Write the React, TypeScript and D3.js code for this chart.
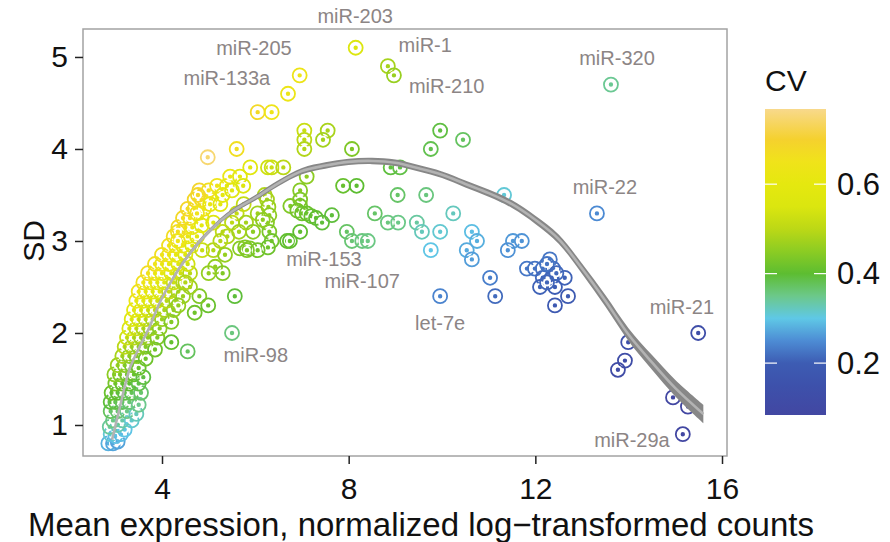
import React, { useEffect, useRef } from "react";
import * as d3 from "d3";

// mean expression / SD pairs
const lowCluster: [number, number][] = [
  [2.85, 0.8], [2.95, 0.8], [3.05, 0.82], [2.9, 0.9], [3.0, 0.88], [3.12, 0.9], [2.88, 0.98], [3.2, 0.95], [3.05, 1.0],
  [2.95, 1.05], [3.15, 1.05], [3.35, 1.05],
  [2.9, 1.15], [3.05, 1.15], [3.25, 1.15], [3.45, 1.12],
  [2.9, 1.25], [3.0, 1.25], [3.15, 1.25], [3.3, 1.25], [3.5, 1.22],
  [2.92, 1.35], [3.05, 1.35], [3.2, 1.35], [3.35, 1.35], [3.55, 1.35],
  [3.0, 1.45], [3.15, 1.45], [3.3, 1.45], [3.5, 1.45],
  [2.98, 1.55], [3.1, 1.55], [3.25, 1.55], [3.4, 1.55], [3.6, 1.52],
  [3.05, 1.65], [3.2, 1.65], [3.35, 1.65], [3.5, 1.62],
  [3.15, 1.75], [3.3, 1.75], [3.45, 1.75], [3.65, 1.72],
];

const midCluster: [number, number][] = [
  [3.2, 1.85], [3.35, 1.85], [3.5, 1.85], [3.65, 1.85], [3.85, 1.82],
  [3.25, 1.95], [3.4, 1.95], [3.55, 1.95], [3.7, 1.95], [3.9, 1.95],
  [3.3, 2.05], [3.45, 2.05], [3.6, 2.05], [3.75, 2.05], [3.95, 2.05],
  [3.35, 2.15], [3.5, 2.15], [3.65, 2.15], [3.8, 2.15], [4.0, 2.15], [4.2, 2.12],
  [3.4, 2.25], [3.55, 2.25], [3.7, 2.25], [3.85, 2.25], [4.05, 2.25], [4.25, 2.25],
  [3.45, 2.35], [3.6, 2.35], [3.75, 2.35], [3.9, 2.35], [4.1, 2.35], [4.3, 2.35],
  [3.5, 2.45], [3.65, 2.45], [3.8, 2.45], [3.95, 2.45], [4.15, 2.45], [4.35, 2.45],
  [3.6, 2.55], [3.75, 2.55], [3.9, 2.55], [4.05, 2.55], [4.25, 2.55], [4.45, 2.55],
  [3.7, 2.65], [3.85, 2.65], [4.0, 2.65], [4.2, 2.65], [4.4, 2.65], [4.6, 2.65],
  [3.85, 2.75], [4.0, 2.75], [4.15, 2.75], [4.35, 2.75], [4.55, 2.75],
  [4.2, 1.9], [4.55, 1.8], [4.7, 2.22], [4.99, 2.3], [4.8, 2.4], [4.6, 2.5], [5.56, 2.4], [5.5, 2.0],
  [4.45, 2.4], [4.35, 2.3], [4.5, 2.55],
];

const upperArm: [number, number][] = [
  [4.0, 2.85], [4.15, 2.85], [4.3, 2.85], [4.5, 2.85],
  [4.15, 2.95], [4.3, 2.95], [4.45, 2.95], [4.65, 2.95],
  [4.25, 3.05], [4.4, 3.05], [4.55, 3.05], [4.75, 3.05],
  [4.35, 3.15], [4.5, 3.15], [4.65, 3.15],
  [4.45, 3.25], [4.6, 3.25], [4.85, 3.25],
  [4.55, 3.35], [4.7, 3.35], [4.9, 3.35],
  [4.7, 3.45], [4.85, 3.45], [5.05, 3.45],
  [4.8, 3.55], [5.0, 3.55],
  [4.34, 3.1], [4.34, 3.0], [4.77, 3.5], [4.75, 3.3], [4.98, 3.91], [5.6, 4.0],
  [5.03, 3.4], [5.25, 3.4], [5.18, 3.6], [5.39, 3.6], [5.46, 3.7], [5.67, 3.7], [5.3, 3.5], [5.1, 3.2],
  [4.85, 3.17], [5.3, 3.1], [5.4, 3.05], [5.1, 2.9], [4.86, 2.9], [5.67, 2.92], [5.78, 2.93], [5.88, 2.92],
  [5.25, 3.0], [5.35, 2.85], [5.14, 2.72], [5.3, 2.65], [5.0, 2.65],
  [5.89, 3.8], [5.74, 3.6], [5.5, 3.55], [5.6, 3.3], [5.75, 3.4], [5.5, 3.2],
  [5.8, 3.2], [5.95, 3.1], [6.05, 3.3], [5.65, 3.1],
];

const middle: [number, number][] = [
  [6.05, 4.4], [6.35, 4.4], [6.7, 4.6], [6.95, 4.8],
  [7.05, 4.2], [7.05, 4.1], [7.05, 4.0], [7.55, 4.2], [7.45, 4.1],
  [6.27, 3.8], [6.35, 3.8], [6.6, 3.8], [7.1, 3.7],
  [6.2, 3.5], [6.25, 3.45], [6.28, 3.37], [6.3, 3.28],
  [6.96, 3.55], [6.96, 3.45], [6.96, 3.38],
  [6.75, 3.38], [6.9, 3.33], [7.0, 3.3], [7.1, 3.3], [7.2, 3.27], [7.3, 3.25],
  [7.43, 3.2], [7.64, 3.28],
  [6.68, 3.0], [6.96, 3.1], [6.25, 3.2], [6.3, 3.1], [6.35, 3.0], [6.27, 2.93], [6.05, 2.9], [5.82, 2.9], [6.74, 3.0], [6.16, 3.23],
  [7.96, 3.1], [8.07, 3.0], [8.29, 3.0], [8.41, 3.0],
  [8.56, 3.3], [8.84, 3.2], [9.06, 3.2], [9.46, 3.2], [9.57, 3.1], [9.96, 3.1], [9.76, 2.9],
  [7.88, 3.6], [8.17, 3.6], [8.9, 3.8], [9.1, 3.8], [9.05, 3.5], [9.66, 3.5],
  [10.24, 3.3], [8.07, 4.0], [9.76, 4.0], [9.96, 4.2], [10.45, 4.1],
  [8.15, 5.1], [8.84, 4.9], [8.97, 4.8],
];

const rightTail: [number, number][] = [
  [13.62, 4.7], [13.32, 3.3], [11.33, 3.5],
  [10.64, 3.1], [10.75, 3.0], [10.53, 2.9], [10.64, 2.8],
  [11.52, 3.0], [11.71, 3.0], [11.41, 2.9],
  [11.03, 2.6], [11.14, 2.4], [9.96, 2.4],
  [11.82, 2.7], [11.99, 2.7], [12.16, 2.7], [12.31, 2.8], [12.38, 2.7], [12.16, 2.6], [12.35, 2.6], [12.63, 2.6],
  [12.1, 2.5], [12.42, 2.5], [12.7, 2.4], [12.42, 2.3], [12.25, 2.75], [12.45, 2.65], [12.25, 2.55],
  [13.99, 1.9], [13.92, 1.7], [13.77, 1.6],
  [15.49, 2.0], [14.95, 1.3], [15.27, 1.2], [15.16, 0.9],
];

// smooth fit through the cloud
const fitMean = [2.93, 3.1, 3.3, 3.5, 3.7, 4.0, 4.5, 5.0, 5.5, 6.0, 6.5, 7.0, 7.5, 8.0, 8.5, 9.0, 9.5, 10.0, 10.5, 11.0, 11.5, 12.0, 12.5, 13.0, 13.5, 14.0, 14.5, 15.0, 15.6];
const fitSD = [0.84, 1.2, 1.6, 1.83, 2.03, 2.38, 2.8, 3.1, 3.32, 3.47, 3.63, 3.76, 3.82, 3.86, 3.87, 3.85, 3.79, 3.72, 3.62, 3.52, 3.4, 3.23, 3.02, 2.7, 2.35, 1.98, 1.68, 1.4, 1.12];
const fitSE = [0.005, 0.008, 0.01, 0.012, 0.014, 0.018, 0.022, 0.025, 0.028, 0.03, 0.032, 0.034, 0.035, 0.035, 0.035, 0.035, 0.035, 0.036, 0.038, 0.04, 0.042, 0.045, 0.05, 0.055, 0.062, 0.07, 0.08, 0.09, 0.1];

// annotated miRNAs (label centre in data units)
const mirNames = ["miR-203", "miR-205", "miR-1", "miR-133a", "miR-210", "miR-320", "miR-22", "miR-153", "miR-107", "let-7e", "miR-98", "miR-21", "miR-29a"];
const labelMean = [8.14, 5.97, 9.64, 5.39, 10.1, 13.75, 13.49, 7.47, 8.29, 9.96, 6.01, 15.14, 14.07];
const labelSD = [5.45, 5.1, 5.13, 4.77, 4.68, 4.99, 3.59, 2.8, 2.56, 2.11, 1.76, 2.28, 0.84];

const xTicks = [4, 8, 12, 16];
const yTicks = [1, 2, 3, 4, 5];
const cvTicks = [0.2, 0.4, 0.6];
// colour bar
const cvStops = [0.084, 0.15, 0.2, 0.25, 0.3, 0.35, 0.4, 0.45, 0.5, 0.55, 0.6, 0.65, 0.7, 0.768];
const cvColors = ["#4247a2", "#3d51ab", "#3d5cb3", "#4d8cd4", "#5fc8e6", "#6cc88a", "#5dbd31", "#8ccc23", "#bcd816", "#dbe60f", "#e5e80f", "#f0e31a", "#f5d12e", "#f8d98c"];
// SD/mean ratio -> dot colour, as the dots show it
const dotRatioStops = [0.084, 0.15, 0.2, 0.25, 0.3, 0.35, 0.44, 0.52, 0.58, 0.62, 0.66, 0.7, 0.75, 0.8];

const FONT = "'Liberation Sans', Arial, Helvetica, sans-serif";

export default function App() {
  const ref = useRef<SVGSVGElement>(null);

  useEffect(() => {
    const svg = d3.select(ref.current);
    svg.selectAll("*").remove();

    const left = 83, right = 727, top = 29, bottom = 456;
    const x = d3.scaleLinear().domain([2.307, 16.107]).range([left, right]);
    const y = d3.scaleLinear().domain([0.663, 5.304]).range([bottom, top]);
    const color = d3.scaleLinear<string>().domain(dotRatioStops).range(cvColors).clamp(true);

    const points = [...lowCluster, ...midCluster, ...upperArm, ...middle, ...rightTail];

    // panel
    svg.append("rect")
      .attr("x", left).attr("y", top)
      .attr("width", right - left).attr("height", bottom - top)
      .attr("fill", "white").attr("stroke", "#a3a3a3").attr("stroke-width", 1.5);

    // points: coloured ring + dot with white edge
    const g = svg.append("g");
    points.forEach(([m, s]) => {
      const c = color(s / m);
      g.append("circle").attr("cx", x(m)).attr("cy", y(s)).attr("r", 7)
        .attr("fill", "none").attr("stroke", c).attr("stroke-width", 1.8);
      g.append("circle").attr("cx", x(m)).attr("cy", y(s)).attr("r", 3.1)
        .attr("fill", c).attr("stroke", "white").attr("stroke-width", 1.8);
    });

    // fit band + line
    const fit = fitMean.map((m, i) => ({ m, s: fitSD[i], se: fitSE[i] }));
    const band = d3.area<any>()
      .x((d) => x(d.m)).y0((d) => y(d.s - d.se)).y1((d) => y(d.s + d.se))
      .curve(d3.curveCatmullRom);
    const line = d3.line<any>().x((d) => x(d.m)).y((d) => y(d.s)).curve(d3.curveCatmullRom);
    svg.append("path").attr("d", band(fit)).attr("fill", "#878787");
    svg.append("path").attr("d", line(fit)).attr("fill", "none")
      .attr("stroke", "#b3b3b3").attr("stroke-width", 2.6);

    // annotations
    svg.append("g").selectAll("text").data(mirNames).enter().append("text")
      .attr("x", (d, i) => x(labelMean[i])).attr("y", (d, i) => y(labelSD[i]))
      .attr("text-anchor", "middle").attr("dominant-baseline", "central")
      .attr("font-family", FONT).attr("font-size", 20).attr("fill", "#8c8585")
      .text((d) => d);

    // axes
    const xAxis = svg.append("g").attr("transform", `translate(0,${bottom})`)
      .call(d3.axisBottom(x).tickValues(xTicks).tickSize(8).tickPadding(14).tickFormat(d3.format("d")));
    const yAxis = svg.append("g").attr("transform", `translate(${left},0)`)
      .call(d3.axisLeft(y).tickValues(yTicks).tickSize(8).tickPadding(7).tickFormat(d3.format("d")));
    [xAxis, yAxis].forEach((a) => {
      a.select(".domain").remove();
      a.selectAll("line").attr("stroke", "#222").attr("stroke-width", 1.5);
      a.selectAll("text").attr("font-family", FONT).attr("font-size", 30).attr("fill", "#111");
    });

    svg.append("text").attr("x", 421).attr("y", 536).attr("text-anchor", "middle")
      .attr("font-family", FONT).attr("font-size", 33).attr("fill", "#111")
      .text("Mean expression, normalized log\u2212transformed counts");
    svg.append("text").attr("transform", "translate(44,241) rotate(-90)").attr("text-anchor", "middle")
      .attr("font-family", FONT).attr("font-size", 30).attr("fill", "#111").text("SD");

    // legend
    const lx = 765, lw = 61;
    const ly = d3.scaleLinear().domain([0.084, 0.768]).range([415, 109]);
    const grad = svg.append("defs").append("linearGradient").attr("id", "cvgrad")
      .attr("x1", 0).attr("y1", 1).attr("x2", 0).attr("y2", 0);
    cvStops.forEach((v, i) => {
      grad.append("stop").attr("offset", (v - 0.084) / (0.768 - 0.084)).attr("stop-color", cvColors[i]);
    });
    svg.append("rect").attr("x", lx).attr("y", ly(0.768)).attr("width", lw)
      .attr("height", ly(0.084) - ly(0.768)).attr("fill", "url(#cvgrad)");
    cvTicks.forEach((t) => {
      svg.append("line").attr("x1", lx).attr("x2", lx + 12).attr("y1", ly(t)).attr("y2", ly(t))
        .attr("stroke", "white").attr("stroke-width", 1.2);
      svg.append("line").attr("x1", lx + lw - 12).attr("x2", lx + lw).attr("y1", ly(t)).attr("y2", ly(t))
        .attr("stroke", "white").attr("stroke-width", 1.2);
      svg.append("text").attr("x", 837).attr("y", ly(t)).attr("dominant-baseline", "central")
        .attr("font-family", FONT).attr("font-size", 31).attr("fill", "#111").text(t.toFixed(1));
    });
    svg.append("text").attr("x", lx).attr("y", 91).attr("font-family", FONT)
      .attr("font-size", 30).attr("fill", "#111").text("CV");
  }, []);

  return (
    <svg ref={ref} width={890} height={542}
      style={{ position: "absolute", left: 0, top: 0, background: "white" }} />
  );
}
